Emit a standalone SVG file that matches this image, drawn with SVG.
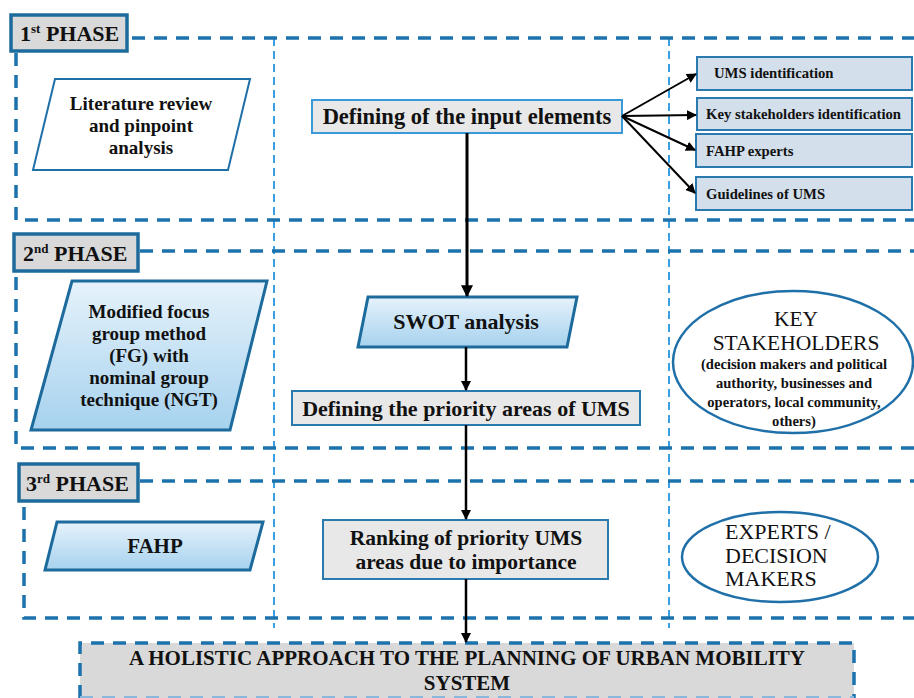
<svg xmlns="http://www.w3.org/2000/svg" width="914" height="698" viewBox="0 0 914 698">
  <defs>
    <linearGradient id="paraFill" x1="0" y1="0" x2="0" y2="1">
      <stop offset="0" stop-color="#e6f2fb"/>
      <stop offset="1" stop-color="#a6d2ee"/>
    </linearGradient>
    <marker id="arrow" viewBox="0 0 10 10" refX="9" refY="5" markerWidth="4" markerHeight="4" orient="auto" markerUnits="strokeWidth">
      <path d="M0,0 L10,5 L0,10 Z" fill="#000"/>
    </marker>
    <marker id="arrowSmall" viewBox="0 0 10 10" refX="9" refY="5" markerWidth="5" markerHeight="5" orient="auto" markerUnits="strokeWidth">
      <path d="M0,0 L10,5 L0,10 Z" fill="#000"/>
    </marker>
    <style>
      text { font-family: "Liberation Serif", "Times New Roman", Tinos, "DejaVu Serif", serif; fill: #111; }
      .phase-border { fill: none; stroke: #1c72ad; stroke-width: 3.5; stroke-dasharray: 13 9; }
      .column-line { fill: none; stroke: #3a9fe0; stroke-width: 2; stroke-dasharray: 8 5; }
      .phase-label { fill: #d9d9d9; stroke: #1c6b9c; stroke-width: 3.5; }
      .label-text { font-weight: bold; font-size: 22px; }
      .para-white { fill: #fff; stroke: #1f6fa8; stroke-width: 2; }
      .para-blue { fill: url(#paraFill); stroke: #1c6b9c; stroke-width: 3; }
      .step-box { fill: #e8e8e8; stroke: #3a9ad9; stroke-width: 2; }
      .step-box-dark { fill: #e8e8e8; stroke: #2a7ab0; stroke-width: 2; }
      .input-box { fill: #d3dfea; stroke: #2a7ab0; stroke-width: 2; }
      .ellipse { fill: #fff; stroke: #1f6fa8; stroke-width: 2.5; }
      .t { font-weight: bold; text-anchor: middle; }
      .t-left { font-weight: bold; font-size: 14.7px; }
      .flow { stroke: #000; fill: none; }
    </style>
  </defs>

  <rect width="914" height="698" fill="#fff"/>

  <!-- column dividers -->
  <g id="columns">
    <line class="column-line" x1="274" y1="38" x2="274" y2="628"/>
    <line class="column-line" x1="669" y1="38" x2="669" y2="628"/>
  </g>

  <!-- phase frames -->
  <g id="phase1-frame">
    <polyline class="phase-border" points="132,38 914,38"/>
    <polyline class="phase-border" points="16,53 16,220 914,220"/>
  </g>
  <g id="phase2-frame">
    <polyline class="phase-border" points="140,251 914,251"/>
    <polyline class="phase-border" points="16,277 16,448 914,448"/>
  </g>
  <g id="phase3-frame">
    <polyline class="phase-border" points="140,481 914,481"/>
    <polyline class="phase-border" points="24,507 24,618 914,618"/>
  </g>

  <!-- phase labels -->
  <g id="phase1-label">
    <rect class="phase-label" x="11" y="15" width="116" height="36"/>
    <text class="label-text" x="20" y="41">1<tspan font-size="13" dy="-8">st</tspan><tspan dy="8"> PHASE</tspan></text>
  </g>
  <g id="phase2-label">
    <rect class="phase-label" x="14" y="234" width="124" height="37"/>
    <text class="label-text" x="23" y="261">2<tspan font-size="13" dy="-8">nd</tspan><tspan dy="8"> PHASE</tspan></text>
  </g>
  <g id="phase3-label">
    <rect class="phase-label" x="19" y="464" width="119" height="37"/>
    <text class="label-text" x="26" y="491">3<tspan font-size="13" dy="-8">rd</tspan><tspan dy="8"> PHASE</tspan></text>
  </g>

  <!-- left column -->
  <g id="literature-review">
    <polygon class="para-white" points="55,79 250,79 228,170 33,170"/>
    <text class="t" font-size="19" x="141" y="110">Literature review</text>
    <text class="t" font-size="19" x="141" y="132">and pinpoint</text>
    <text class="t" font-size="19" x="141" y="154">analysis</text>
  </g>
  <g id="focus-group">
    <polygon class="para-blue" points="72,281 267,281 230,430 31,430"/>
    <text class="t" font-size="19" x="149" y="318">Modified focus</text>
    <text class="t" font-size="19" x="149" y="340">group method</text>
    <text class="t" font-size="19" x="149" y="362">(FG) with</text>
    <text class="t" font-size="19" x="149" y="384">nominal group</text>
    <text class="t" font-size="19" x="149" y="406">technique (NGT)</text>
  </g>
  <g id="fahp">
    <polygon class="para-blue" points="57,522 263,522 250,570 45,570"/>
    <text class="t" font-size="21" x="155" y="553">FAHP</text>
  </g>

  <!-- centre column -->
  <g id="input-elements">
    <rect class="step-box" x="312" y="100" width="310" height="33"/>
    <text class="t" font-size="22.5" x="467" y="124">Defining of the input elements</text>
  </g>
  <g id="swot">
    <polygon class="para-blue" points="368,297 577,297 567,347 358,347"/>
    <text class="t" font-size="22" x="466" y="329">SWOT analysis</text>
  </g>
  <g id="priority-areas">
    <rect class="step-box-dark" x="292" y="391" width="348" height="34"/>
    <text class="t" font-size="22" x="466" y="416">Defining the priority areas of UMS</text>
  </g>
  <g id="ranking">
    <rect class="step-box-dark" x="323" y="520" width="285" height="59"/>
    <text class="t" font-size="21.5" x="466" y="545">Ranking of priority UMS</text>
    <text class="t" font-size="21.5" x="466" y="569">areas due to importance</text>
  </g>

  <!-- right column: inputs -->
  <g id="ums-identification">
    <rect class="input-box" x="697" y="57" width="215" height="33"/>
    <text class="t-left" x="714" y="78">UMS identification</text>
  </g>
  <g id="stakeholders-identification">
    <rect class="input-box" x="697" y="98" width="215" height="32"/>
    <text class="t-left" x="706" y="119">Key stakeholders identification</text>
  </g>
  <g id="fahp-experts">
    <rect class="input-box" x="696" y="134" width="216" height="33"/>
    <text class="t-left" x="706" y="156">FAHP experts</text>
  </g>
  <g id="guidelines">
    <rect class="input-box" x="696" y="177" width="216" height="33"/>
    <text class="t-left" x="706" y="199">Guidelines of UMS</text>
  </g>

  <!-- right column: participants -->
  <g id="key-stakeholders">
    <ellipse class="ellipse" cx="793" cy="362" rx="120" ry="71"/>
    <text text-anchor="middle" font-size="21.5" x="796" y="326">KEY</text>
    <text text-anchor="middle" font-size="21.5" x="796" y="350">STAKEHOLDERS</text>
    <text class="t" font-size="14.6" x="794" y="369">(decision makers and political</text>
    <text class="t" font-size="14.6" x="794" y="388">authority, businesses and</text>
    <text class="t" font-size="14.6" x="794" y="407">operators, local community,</text>
    <text class="t" font-size="14.6" x="794" y="426">others)</text>
  </g>
  <g id="experts">
    <ellipse class="ellipse" cx="780" cy="557" rx="98" ry="45"/>
    <text font-size="22" x="725" y="539">EXPERTS /</text>
    <text font-size="22" x="725" y="563">DECISION</text>
    <text font-size="22" x="725" y="586">MAKERS</text>
  </g>

  <!-- outcome -->
  <g id="holistic-approach">
    <rect x="80" y="643" width="774" height="60" fill="#d9d9d9"/>
    <polyline class="phase-border" points="80,698 80,643 854,643 854,698"/>
    <line x1="80" y1="697" x2="854" y2="697" stroke="#8ab8dc" stroke-width="2" stroke-dasharray="13 9"/>
    <text class="t" font-size="21" x="467" y="665">A HOLISTIC APPROACH TO THE PLANNING OF URBAN MOBILITY</text>
    <text class="t" font-size="21" x="467" y="690">SYSTEM</text>
  </g>

  <!-- connectors -->
  <g id="connectors">
    <line class="flow" stroke-width="3" x1="467" y1="133" x2="467" y2="296" marker-end="url(#arrow)"/>
    <line class="flow" stroke-width="2.5" x1="466" y1="347" x2="466" y2="390" marker-end="url(#arrow)"/>
    <line class="flow" stroke-width="2.5" x1="466" y1="425" x2="466" y2="519" marker-end="url(#arrow)"/>
    <line class="flow" stroke-width="2.5" x1="466" y1="579" x2="466" y2="642" marker-end="url(#arrow)"/>
    <line class="flow" stroke-width="2" x1="622" y1="116" x2="696" y2="74" marker-end="url(#arrowSmall)"/>
    <line class="flow" stroke-width="2" x1="622" y1="116" x2="696" y2="115" marker-end="url(#arrowSmall)"/>
    <line class="flow" stroke-width="2" x1="622" y1="116" x2="695" y2="150" marker-end="url(#arrowSmall)"/>
    <line class="flow" stroke-width="2" x1="622" y1="116" x2="695" y2="193" marker-end="url(#arrowSmall)"/>
  </g>
</svg>
